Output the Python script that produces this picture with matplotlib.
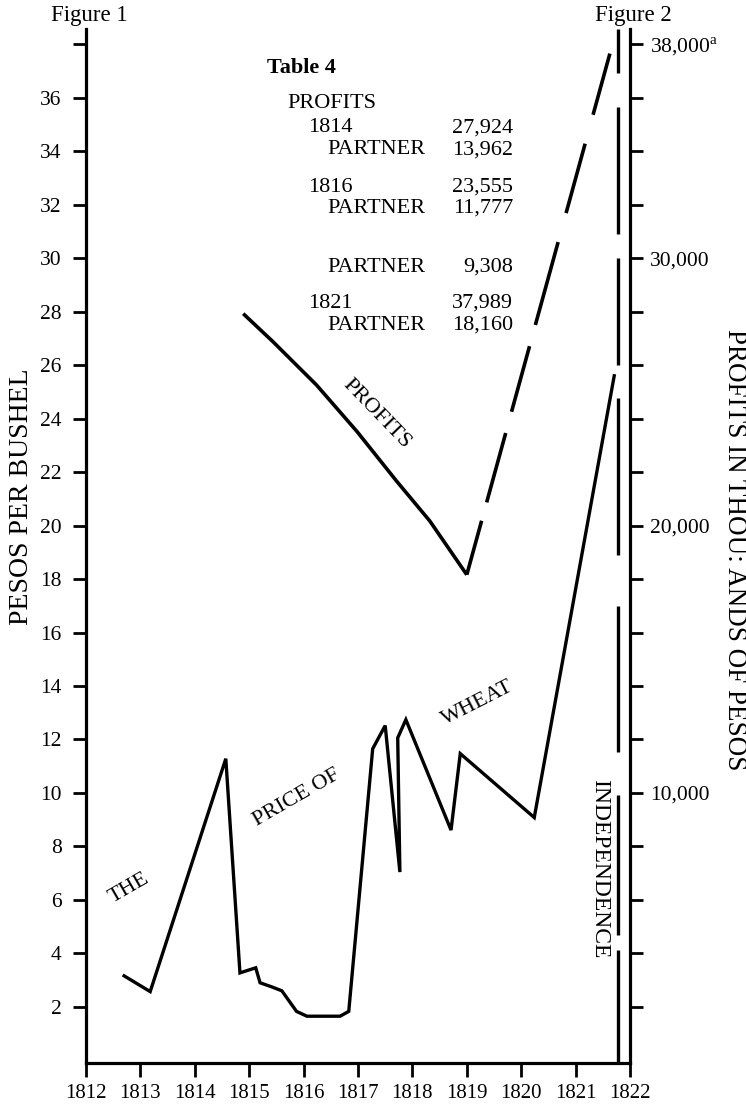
import matplotlib
matplotlib.use('Agg')
import matplotlib.pyplot as plt
import numpy as np

plt.rcParams['font.family'] = ['Liberation Serif', 'DejaVu Serif']
plt.rcParams['mathtext.fontset'] = 'custom'
plt.rcParams['mathtext.rm'] = 'Liberation Serif'
plt.rcParams['lines.scale_dashes'] = False

# price of wheat, pesos per bushel
wheat_year = [1812.70, 1813.18, 1814.57, 1814.83, 1815.12, 1815.20, 1815.41, 1815.60,
              1815.87, 1816.06, 1816.67, 1816.83, 1817.27, 1817.50, 1817.77, 1817.73,
              1817.88, 1818.71, 1818.88, 1820.24, 1821.71]
wheat_price = [3.16, 2.57, 11.28, 3.27, 3.46, 2.90, 2.75, 2.60,
               1.83, 1.65, 1.65, 1.83, 11.65, 12.52, 7.04, 12.06,
               12.74, 8.61, 11.47, 9.08, 25.6]

# profits in pesos
profit_year = [1814.89, 1815.44, 1816.24, 1816.98, 1817.71, 1818.32, 1819.0]
profit_pesos = [27924, 26870, 25250, 23520, 21660, 20170, 18160]
profit_rise_year = [1819.0, 1821.63]
profit_rise_pesos = [18160, 37650]

independence_year = 1821.78

years = list(range(1812, 1823))
left_ticks = list(range(2, 39, 2))
right_ticks = list(range(2000, 38001, 2000))
right_labels = {10000: '10,000', 20000: '20,000', 30000: '30,000', 38000: '38,000$^{\\rm a}$'}

# Table 4 rows: (label, indent level, value)
table_rows = [('1814', 1, '27,924'), ('PARTNER', 2, '13,962'),
              ('1816', 1, '23,555'), ('PARTNER', 2, '11,777'),
              ('PARTNER', 2, '9,308'),
              ('1821', 1, '37,989'), ('PARTNER', 2, '18,160')]
table_y = [128, 150, 187, 208, 267, 303, 325]

W, H = 746, 1107
def px(x, y):
    return x / W, 1 - y / H

fig = plt.figure(figsize=(W / 100, H / 100), dpi=100)
ax = fig.add_axes([86 / W, 44 / H, 544 / W, 1034 / H])
ax2 = ax.twinx()

ax.set_xlim(1812, 1822)
ax.set_ylim(-0.1, 38.57)
ax2.set_ylim(-100, 38570)

for s in ['top', 'right']:
    ax.spines[s].set_visible(False)
for s in ['top', 'left', 'bottom']:
    ax2.spines[s].set_visible(False)
ax.spines['left'].set_linewidth(2.3)
ax.spines['bottom'].set_linewidth(2.3)
ax2.spines['right'].set_linewidth(2.3)

ax.set_xticks(years)
ax.set_xticklabels([str(y) for y in years])
ax.set_yticks(left_ticks)
ax.set_yticklabels([str(v) if v != 38 else '' for v in left_ticks])
ax2.set_yticks(right_ticks)
ax2.set_yticklabels([right_labels.get(v, '') for v in right_ticks])

ax.tick_params(axis='x', direction='out', length=10, width=2, pad=5, labelsize=15)
ax.tick_params(axis='y', direction='out', length=9.5, width=2, pad=8, labelsize=15.5)
ax2.tick_params(axis='y', direction='out', length=9.5, width=2, pad=5, labelsize=15.5)

ax.plot(wheat_year, wheat_price, color='black', lw=2.4, solid_joinstyle='miter')
ax2.plot(profit_year, profit_pesos, color='black', lw=2.6, solid_capstyle='butt')
rise_dash = [v * 0.72 for v in [56, 19, 72, 22, 68, 22, 86, 30, 72, 30, 68, 30]]
ax2.plot(profit_rise_year, profit_rise_pesos, color='black', lw=2.6,
         dashes=rise_dash, dash_capstyle='butt')

# independence line, drawn top-down with broken dashes
ind_dash = [v * 0.72 for v in [44, 34, 127, 24, 107, 33, 157, 51, 146, 43, 140, 15, 130, 10]]
ax.axvline(independence_year, ymin=1, ymax=0, color='black', lw=2.4,
           dashes=ind_dash, clip_on=False)

# labels
fig.text(*px(89, 15), 'Figure 1', ha='center', va='center', fontsize=16.5)
fig.text(*px(633, 15), 'Figure 2', ha='center', va='center', fontsize=16.5)
fig.text(*px(22, 497), 'PESOS PER BUSHEL', rotation=90, ha='center', va='center', fontsize=20)
fig.text(*px(735, 550), 'PROFITS IN THOU: ANDS OF PESOS', rotation=-90, ha='center', va='center', fontsize=19.5)
fig.text(*px(600, 869), 'INDEPENDENCE', rotation=-90, ha='center', va='center', fontsize=17)

fig.text(*px(129, 888), 'THE', rotation=30, rotation_mode='anchor', ha='center', va='center', fontsize=16)
fig.text(*px(297, 798), 'PRICE OF', rotation=30, rotation_mode='anchor', ha='center', va='center', fontsize=16)
fig.text(*px(478, 703), 'WHEAT', rotation=27, rotation_mode='anchor', ha='center', va='center', fontsize=16)
fig.text(*px(377, 414), 'PROFITS', rotation=-46, rotation_mode='anchor', ha='center', va='center', fontsize=16)

# table 4
fig.text(*px(267, 68), 'Table 4', ha='left', va='center', fontsize=16, fontweight='bold')
fig.text(*px(287, 104), 'PROFITS', ha='left', va='center', fontsize=16)
indent_x = {1: 308, 2: 327}
for (lab, lvl, val), yy in zip(table_rows, table_y):
    fig.text(*px(indent_x[lvl], yy), lab, ha='left', va='center', fontsize=16)
    fig.text(*px(513, yy), val, ha='right', va='center', fontsize=16)

fig.savefig('out.png', dpi=100)
